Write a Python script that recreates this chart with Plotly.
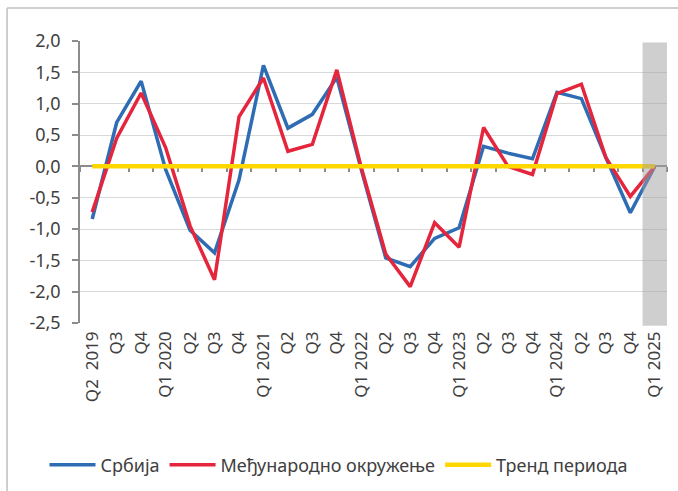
import plotly.graph_objects as go

categories = ["Q2  2019", "Q3", "Q4", "Q1 2020", "Q2", "Q3", "Q4", "Q1 2021",
              "Q2", "Q3", "Q4", "Q1 2022", "Q2", "Q3", "Q4", "Q1 2023",
              "Q2", "Q3", "Q4", "Q1 2024", "Q2", "Q3", "Q4", "Q1 2025"]
# unique keys for the category axis (labels repeat)
keys = [f"{i}" for i in range(len(categories))]

srbija = [-0.84, 0.70, 1.36, -0.05, -1.02, -1.38, -0.22, 1.61,
          0.61, 0.83, 1.42, -0.05, -1.46, -1.60, -1.15, -0.98,
          0.32, 0.21, 0.12, 1.18, 1.08, 0.14, -0.74, 0.0]
okruzenje = [-0.73, 0.45, 1.17, 0.30, -0.95, -1.81, 0.79, 1.41,
             0.24, 0.35, 1.54, -0.02, -1.40, -1.92, -0.90, -1.29,
             0.62, 0.0, -0.13, 1.16, 1.31, 0.14, -0.48, 0.0]
trend = [0.0] * len(categories)

highlight = "Q1 2025"
highlight_idx = len(categories) - 1 - categories[::-1].index(highlight)

y_tick_vals = [2.0, 1.5, 1.0, 0.5, 0.0, -0.5, -1.0, -1.5, -2.0, -2.5]
y_tick_text = ["2,0", "1,5", "1,0", "0,5", "0,0", "-0,5", "-1,0", "-1,5", "-2,0", "-2,5"]
y_min, y_max = -2.5, 2.0

BLUE = "#2E6CB4"
RED = "#E4253C"
YELLOW = "#FFD700"
TXT = "#404040"
FONT = "Noto Sans"

fig = go.Figure()
fig.add_trace(go.Scatter(x=keys, y=srbija, mode="lines", name="Србија",
                         line=dict(color=BLUE, width=3.5)))
fig.add_trace(go.Scatter(x=keys, y=okruzenje, mode="lines", name="Међународно окружење",
                         line=dict(color=RED, width=3.5)))
fig.add_trace(go.Scatter(x=keys, y=trend, mode="lines", name="Тренд периода",
                         line=dict(color=YELLOW, width=4.5), xaxis="x2"))

# shaded band over the highlighted category
fig.add_shape(type="rect", xref="x", yref="y domain",
              x0=highlight_idx - 0.5, x1=highlight_idx + 0.5, y0=-0.01, y1=0.995,
              fillcolor="rgba(160,160,160,0.5)", line=dict(width=0), layer="above")

# outer chart frame (top and left edges visible)
fig.add_shape(type="line", xref="paper", yref="paper", x0=-0.1243, x1=1.03, y0=1.117, y1=1.117,
              line=dict(color="#BFBFBF", width=1.5))
fig.add_shape(type="line", xref="paper", yref="paper", x0=-0.1243, x1=-0.1243, y0=1.117, y1=-0.62,
              line=dict(color="#BFBFBF", width=1.5))

zero_pos = (0 - y_min) / (y_max - y_min)

fig.update_layout(
    width=678, height=491,
    margin=dict(l=80, r=10.5, t=41, b=168),
    paper_bgcolor="white", plot_bgcolor="white",
    font=dict(family=FONT, color=TXT, size=17),
    showlegend=True,
    legend=dict(orientation="h", xref="container", yref="container",
                x=0.5, xanchor="center", y=0.053, yanchor="middle",
                font=dict(size=18, color=TXT), itemwidth=46,
                traceorder="normal"),
    xaxis=dict(type="category", tickmode="array", tickvals=keys, ticktext=categories,
               tickangle=-90, showline=False, ticks="", showgrid=False,
               zeroline=False, tickfont=dict(size=17, color=TXT),
               range=[-0.5, len(categories) - 0.5], ticklabelstandoff=4),
    xaxis2=dict(type="category", overlaying="x", matches="x", anchor="free",
                position=zero_pos, showline=True, linecolor="#8C8C8C", linewidth=1.5,
                ticks="outside", ticklen=5, tickcolor="#8C8C8C", tickwidth=1.5,
                tickson="boundaries", showticklabels=False, showgrid=False, zeroline=False,
                layer="below traces"),
    yaxis=dict(range=[y_min, y_max], tickmode="array", tickvals=y_tick_vals,
               ticktext=y_tick_text, showgrid=True, gridcolor="#D9D9D9", gridwidth=1,
               showline=True, linecolor="#8C8C8C", linewidth=1.5,
               ticks="outside", ticklen=6, tickcolor="#8C8C8C", tickwidth=1.5,
               zeroline=False, tickfont=dict(size=18, color=TXT), ticklabelstandoff=8),
)

fig.write_html("out.html", config={"displayModeBar": False},
               post_script="document.body.style.margin='0';document.body.style.overflow='hidden';")
